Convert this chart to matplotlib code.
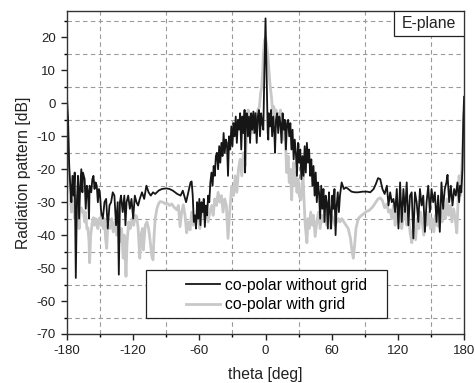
import matplotlib
matplotlib.use("Agg")
import matplotlib.pyplot as plt
from matplotlib.ticker import MultipleLocator, AutoMinorLocator
from matplotlib.patches import Rectangle

plt.rcParams['font.family'] = ['Liberation Sans', 'DejaVu Sans']
plt.rcParams['axes.unicode_minus'] = False

# co-polar without grid (black)
theta_nogrid = [
    -180, -179, -178, -177, -176, -175, -174, -173, -172, -171, -170, -169, -168, -167, -166, -165.5,
    -164, -163, -162, -161, -160, -159.5, -158, -157, -156, -155, -154, -153, -152, -151, -150, -149,
    -147.5, -146, -144.5, -143, -141.5, -140, -138.5, -137, -135.5, -134, -133, -132, -131, -129.5,
    -128, -127, -126, -124.5, -123, -121.5, -120, -118.5, -117, -115.5, -114, -112, -110, -108, -106,
    -104, -102, -100, -97, -94, -90, -87, -84, -80, -77, -75, -72, -70, -68, -67, -66, -65, -64, -63,
    -62, -61, -60, -59, -58, -57, -56, -55, -54, -53, -52, -51, -50, -49, -48, -47, -46, -45, -44, -43,
    -42, -41, -40, -39, -38, -37, -36, -35, -34, -33, -32, -31, -30, -29, -28, -27, -26, -25, -24, -23,
    -22, -21, -20, -19, -18.5, -18, -17, -16, -15, -14, -13, -12, -11, -10, -9, -8, -7, -6, -5, -4, -3,
    -2, -1, 0, 1, 2, 2.5, 3, 4, 5, 6, 7, 8, 8.6, 9.5, 10.5, 11.5, 12.5, 13.5, 14.5, 15.5, 16.5, 17.5,
    18.5, 19.5, 20.5, 21.5, 22.5, 23.5, 24.5, 25.5, 26.5, 27.5, 28.5, 29.5, 30.5, 31.5, 32.5, 33.5,
    34.5, 35.5, 36.5, 37.5, 38.5, 39.5, 40.5, 41.5, 42.5, 43.5, 44.5, 45.5, 46.5, 47.5, 48.5, 49.5,
    50.5, 51.5, 52.5, 53.5, 54.5, 55.5, 56.5, 57.5, 58.5, 59.5, 60.5, 61.5, 62.5, 63.5, 64.5, 65.5,
    66.5, 67.5, 69, 71, 73, 75, 78, 81, 84, 88, 92, 95, 98, 100, 102, 104, 106, 108, 110, 111.5, 113,
    114.5, 116, 117.5, 119, 120.5, 122, 123.5, 125, 126.5, 128, 129.5, 131, 132.5, 134, 135.5, 137,
    138.5, 140, 141.5, 143, 144.5, 146, 147.5, 149, 150.5, 152, 153.5, 155, 156.5, 158, 159.5, 161,
    162.5, 164, 165, 166.5, 168, 169.5, 171, 172.5, 174, 175.5, 176.5, 177.5, 178.5, 179.3, 180]
db_nogrid = [
    2, -5, -19, -25, -30, -22, -28, -21, -53, -30, -22, -35, -25, -20, -27, -21,
    -23, -32, -25, -27, -35, -25, -27, -23, -22, -26, -24, -25, -30, -26, -28, -33,
    -35, -30, -29, -38, -31, -30, -27, -28, -37, -30, -52, -30, -28, -33,
    -28, -37, -30, -28, -32, -29, -35, -28, -30, -31, -29, -27, -29, -25, -27,
    -28, -27, -27.5, -26.5, -26, -25.8, -26, -26.5, -27.5, -28, -26.5, -30, -27, -24, -23.7, -28, -36, -34, -38,
    -30, -35, -29, -37, -30, -33, -29, -37.5, -31, -34, -28, -30, -24, -21, -25, -19, -22, -16, -15, -20,
    -13, -18, -12, -16, -9, -15, -11, -12, -22, -10, -14, -7, -13, -6, -10, -4, -12, -5, -8, -3,
    -14, -4, -9, -2, -21, -6, -3, -10, -4, -12, -3, -8, -2.5, -9, -3, -12, -4, -2, -10, -3, -6,
    -8, 10, 25.8, 8, -9, -11, -3, -7, -2, -10, -4, -9, -15, -5, -3, -9, -4, -6, -12, -3, -8, -5,
    -14, -6, -5, -10, -6, -14, -8, -17, -11, -15, -22, -12, -18, -14, -23, -16,
    -22, -13, -21, -12, -18, -14, -22, -17, -25, -19, -28, -21, -30, -24, -27, -35,
    -25, -32, -26, -36, -28, -30, -38, -27, -33, -38, -28, -32, -26, -40, -31, -27,
    -33, -28, -24, -26, -25.5, -26, -26.8, -27, -27, -26.8, -26.8, -27, -26, -24.5, -22.7, -23, -26, -27.5, -25, -31, -27,
    -30, -29, -33, -26, -38, -24, -36, -26, -33, -24, -37, -28, -27, -41, -27, -30,
    -36, -26, -31, -28, -39, -30, -25, -33, -26, -30, -27, -36, -28, -39, -24, -32,
    -26, -24, -21.7, -30, -25, -31, -26, -28, -24, -30, -25, -27, -20, -5, 2]

# co-polar with grid (light grey)
theta_grid = [
    -180, -179, -178, -177, -176, -175, -174, -173, -172, -171, -170, -169, -168, -167, -166, -165,
    -164, -163, -162, -161, -160, -159.5, -158.5, -157, -156, -155, -154, -153, -152, -151, -150, -149,
    -148, -147, -146, -145, -144, -143, -141, -139.5, -138, -136.5, -135, -133.5, -132, -130.5, -129,
    -128, -126.5, -125.5, -124, -122.5, -121, -119.5, -118, -116.8, -115.5, -114, -113, -111.5, -110.8,
    -109, -107.5, -106, -104.5, -103, -102, -101, -100, -98.5, -97, -95.6, -93, -91, -89.6, -87, -85,
    -83, -80.5, -79, -77.5, -76, -74.5, -73, -71.5, -70, -68.4, -67, -65.5, -64, -62.4, -61, -59.5, -58,
    -56.4, -55, -53.5, -52, -50.5, -48.8, -47.5, -46, -44.5, -43, -41.5, -40, -38.5, -37, -35.5, -34,
    -32.5, -30.7, -29, -27.5, -26, -24.5, -23, -21.5, -20, -18.5, -17, -15.8, -14.5, -13, -11.5, -10,
    -8.5, -7, -5.5, -4.5, -3.6, -2.5, -2, -1, 0, 1, 2, 2.5, 4, 5.5, 6.5, 7.5, 8.5, 9.5, 10.5, 11.5,
    12.5, 13.5, 14.5, 15.5, 16.5, 17.5, 18.5, 19.2, 20.5, 21.5, 22.5, 23.7, 24.5, 25.5, 26.5, 27.5,
    28.5, 29.5, 30.5, 32, 33, 34, 35, 36, 37.5, 38.5, 39.5, 41, 42.5, 43.5, 45, 46.5, 48, 49.5, 51,
    52.5, 54, 55.5, 57, 58.5, 60, 61.6, 63, 64.5, 66, 67.5, 69, 71, 73, 75, 77, 78.5, 79.6, 80.5, 82,
    84, 86, 89, 91.6, 94, 97, 100, 102, 104, 106, 108, 110, 111.5, 113, 114.5, 116, 117.5, 119, 120.5,
    122, 123.5, 125, 126.5, 128, 129.5, 131, 132.6, 134, 136, 137.5, 139, 140.5, 142, 143.5, 145,
    146.5, 148, 149.5, 151, 152.5, 154, 155.5, 157, 158.5, 160, 161.5, 163, 164.5, 166, 167.5, 169,
    170.5, 172, 173.4, 174.5, 175.5, 176.5, 178, 179, 180]
db_grid = [
    -3, -12, -22, -28, -33, -25, -30, -35, -28, -33, -30, -38, -32, -31.7, -33, -32.6,
    -36, -33, -38, -37.8, -42, -48.4, -40, -36, -34.7, -37, -35, -36, -38, -35, -34.7, -37,
    -36, -38, -35, -41, -44, -37, -38, -35, -39, -36, -40, -37, -42, -38, -47,
    -40, -52.5, -42, -36, -38, -35, -37, -34, -34.3, -38, -47, -40, -38, -44.5,
    -37, -36, -38, -42, -46.5, -47.5, -40, -35, -32, -30.5, -29.8, -30, -30.5, -30.2, -31, -30.5,
    -31.5, -32.3, -31, -37.4, -33, -30.8, -34, -39.3, -36, -38.4, -33, -37, -34, -35.3, -34.7, -38, -33,
    -31.3, -35, -32, -36, -33, -31, -34, -29, -31, -27, -30, -28, -33, -29, -31, -41,
    -33, -25.2, -28, -22, -27, -20, -17, -22, -15, -19, -8, -2, -7, -4, -9, -3,
    -6, -2, -1, 3, 4.6, 10, 14.8, 19, 20, 18, 15, 12.7, 6, 1.5, -3, -1, -6, -2, -7, -3,
    -5, -2, -8, -5, -11, -7, -15, -21, -16, -24, -20, -29.3, -22, -18, -25, -21,
    -27, -23, -28, -29.3, -25, -22, -30, -37, -42.3, -35, -38, -33, -37, -34, -40.4, -36, -33, -38, -34,
    -36, -33, -37, -35, -38, -34, -35.3, -37, -36, -35, -36, -35, -36, -37, -38, -41, -45, -47, -44, -38,
    -35, -34.3, -33.5, -32.8, -32.5, -31.5, -30, -29, -28.7, -29.5, -31.7, -30.5, -33, -32.3, -35, -31, -37, -33, -36,
    -31, -38, -34, -32, -37, -34, -39, -42.3, -37, -41.4, -35, -38, -33, -36, -40, -35,
    -37, -33, -38, -35, -39, -34, -37, -37.4, -33, -36, -31, -35, -29, -34, -31, -36,
    -32, -35, -39.3, -30, -22, -28, -20, -12, -3]

fig = plt.figure(figsize=(4.75, 3.83), dpi=100)
ax = fig.add_axes([0.141, 0.128, 0.836, 0.843])

l2, = ax.plot(theta_grid, db_grid, color='#c8c8c8', lw=2.0, label='co-polar with grid')
l1, = ax.plot(theta_nogrid, db_nogrid, color='#161616', lw=1.3, label='co-polar without grid')

ax.set_xlim(-180, 180)
ax.set_ylim(-70, 28)
ax.xaxis.set_major_locator(MultipleLocator(60))
ax.xaxis.set_minor_locator(AutoMinorLocator(2))
ax.yaxis.set_major_locator(MultipleLocator(10))
ax.yaxis.set_minor_locator(AutoMinorLocator(2))
ax.tick_params(which='major', direction='out', length=4.5, width=1, labelsize=9.5, colors='#222222')
ax.tick_params(which='minor', direction='out', length=2.5, width=1)
ax.grid(which='minor', ls=(0, (4, 3)), color='#9a9a9a', lw=0.8)
for s in ax.spines.values():
    s.set_linewidth(1.0)
    s.set_color('#333333')

ax.set_xlabel('theta [deg]', fontsize=11.3, color='#222222', labelpad=7)
ax.set_ylabel('Radiation pattern [dB]', fontsize=11.3, color='#222222', labelpad=4)

# legend box
ax.add_patch(Rectangle((0.199, 0.05), 0.607, 0.148, transform=ax.transAxes,
                       facecolor='white', edgecolor='#222222', lw=0.9, zorder=5))
ax.legend(handles=[l1, l2], loc='lower left', bbox_to_anchor=(0.285, 0.05),
          frameon=False, fontsize=11.3, handlelength=2.2, handletextpad=0.3,
          labelspacing=0.28, borderaxespad=0, borderpad=0.35).set_zorder(6)

# E-plane box
ax.add_patch(Rectangle((0.824, 0.923), 0.176, 0.077, transform=ax.transAxes,
                       facecolor='white', edgecolor='#222222', lw=0.9, zorder=5))
ax.text(0.912, 0.961, 'E-plane', transform=ax.transAxes, ha='center', va='center',
        fontsize=11.3, color='#222222', zorder=6)

fig.savefig('out.png', dpi=100)
